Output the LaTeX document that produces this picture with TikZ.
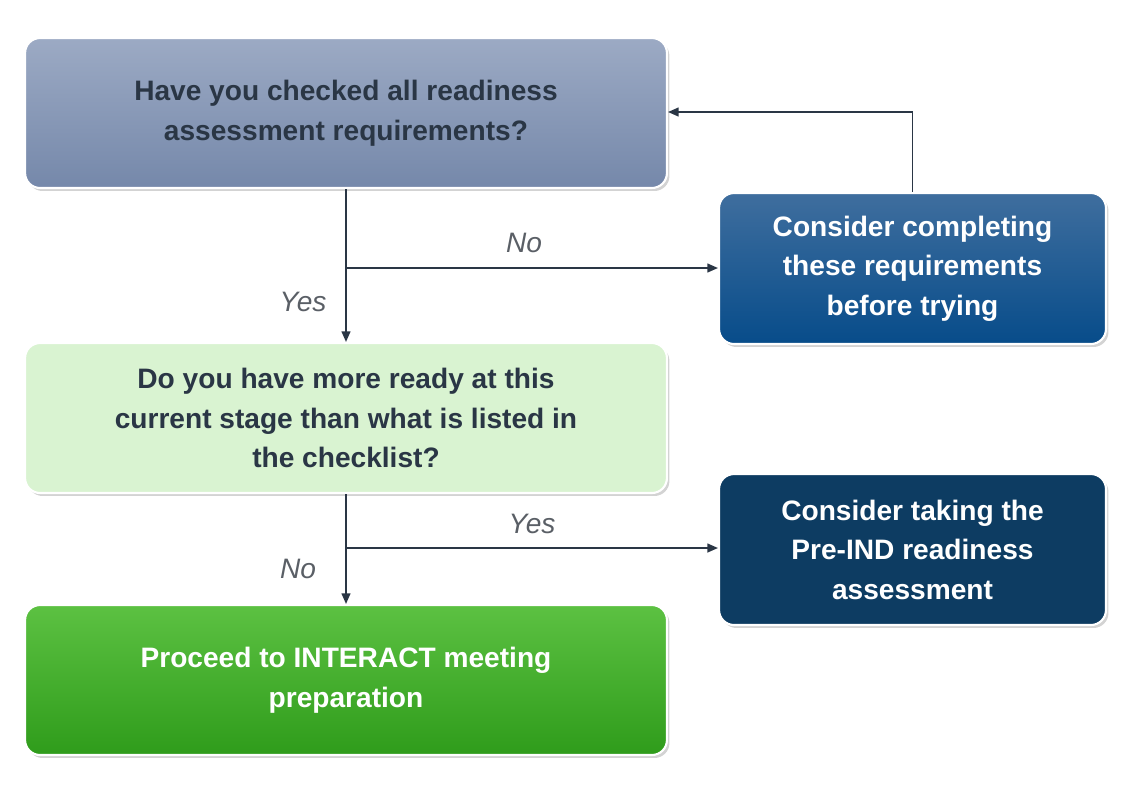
\documentclass[tikz,border=0pt]{standalone}
\usepackage{fontspec}
\setmainfont{Liberation Sans}
\usetikzlibrary{shadows,arrows.meta}
\definecolor{b1t}{HTML}{9CAAC4}\definecolor{b1b}{HTML}{7588AA}
\definecolor{b2t}{HTML}{3F6E9E}\definecolor{b2b}{HTML}{074C8A}
\definecolor{b3}{HTML}{D9F3D1}
\definecolor{b4}{HTML}{0D3C62}
\definecolor{b5t}{HTML}{5CC142}\definecolor{b5b}{HTML}{2F9C1B}
\definecolor{txt}{HTML}{2A3645}
\definecolor{lbl}{HTML}{5A5F66}
\begin{document}
\begin{tikzpicture}[x=0.02cm,y=-0.02cm,
 box/.style={rounded corners=0.3cm,draw=white,line width=1.2pt,drop shadow={opacity=0.35,shadow xshift=0.05cm,shadow yshift=-0.06cm},
   align=center,font=\fontsize{16}{22.5}\selectfont\bfseries,inner sep=0pt},
 lab/.style={font=\fontsize{16}{20}\selectfont\itshape,text=lbl},
 con/.style={draw=txt,line width=0.9pt,-{Triangle[length=6pt,width=5pt]}}]
\useasboundingbox (0,0) rectangle (1129,792);
\node[box,top color=b1t,bottom color=b1b,text=txt,minimum width=12.84cm,minimum height=3cm] (q1) at (346,113) {Have you checked all readiness\\assessment requirements?};
\node[box,top color=b2t,bottom color=b2b,text=white,minimum width=7.74cm,minimum height=3.02cm] (r1) at (912.5,268.5) {Consider completing\\these requirements\\before trying};
\node[box,fill=b3,text=txt,minimum width=12.84cm,minimum height=3cm] (q2) at (346,418) {Do you have more ready at this\\current stage than what is listed in\\the checklist?};
\node[box,fill=b4,text=white,minimum width=7.74cm,minimum height=3.02cm] (r2) at (912.5,549.5) {Consider taking the\\Pre-IND readiness\\assessment};
\node[box,top color=b5t,bottom color=b5b,text=white,minimum width=12.84cm,minimum height=3cm] (p) at (346,680) {Proceed to INTERACT meeting\\preparation};
\coordinate (j1) at (346,268);
\coordinate (j2) at (346,548);
\draw[con] (q1.south) -- (q2.north);
\draw[con] (j1) -- (r1.west|-j1);
\draw[con] (r1.north) |- (q1.east|-0,112);
\draw[con] (q2.south) -- (p.north);
\draw[con] (j2) -- (r2.west|-j2);
\node[lab] (n1) at (524,243) {No};
\node[lab] (y1) at (303,302) {Yes};
\node[lab] (y2) at (532,524) {Yes};
\node[lab] (n2) at (298,569) {No};
\end{tikzpicture}
\end{document}
